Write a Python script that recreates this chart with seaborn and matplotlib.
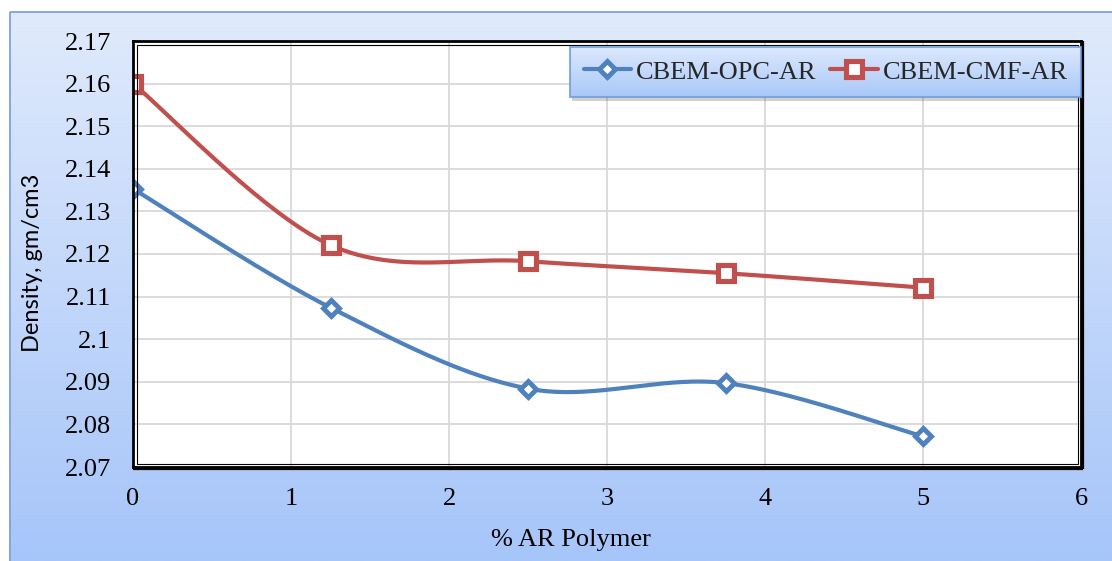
import numpy as np
import matplotlib
matplotlib.use("Agg")
import matplotlib.pyplot as plt
import seaborn as sns
import pandas as pd
from matplotlib.lines import Line2D
from matplotlib.patches import Rectangle

# ---- data -------------------------------------------------------------
ar_polymer = [0, 1.25, 2.5, 3.75, 5]
density_opc = [2.1353, 2.1074, 2.0884, 2.0897, 2.0772]
density_cmf = [2.1600, 2.1221, 2.1183, 2.1155, 2.1121]
series_names = ["CBEM-OPC-AR", "CBEM-CMF-AR"]
x_ticks = [0, 1, 2, 3, 4, 5, 6]
y_ticks = [2.07, 2.08, 2.09, 2.10, 2.11, 2.12, 2.13, 2.14, 2.15, 2.16, 2.17]
y_tick_labels = ["2.07", "2.08", "2.09", "2.1", "2.11", "2.12", "2.13",
                 "2.14", "2.15", "2.16", "2.17"]
x_label = "% AR Polymer"
y_label = "Density, gm/cm3"

BLUE = "#4f81bd"
RED = "#c0504d"
SERIF = "Liberation Serif"
FS = 19


def smooth_curve(xs, ys, n=60):
    """Cubic Bezier smoothing through every point (spreadsheet-style)."""
    p = np.column_stack([xs, ys]).astype(float)
    out = []
    t = np.linspace(0, 1, n)[:, None]
    for i in range(len(p) - 1):
        prev = p[i - 1] if i > 0 else p[i]
        nxt = p[i + 2] if i + 2 < len(p) else p[i + 1]
        p0, p3 = p[i], p[i + 1]
        c1 = p0 + (p3 - prev) / 6.0
        c2 = p3 - (nxt - p0) / 6.0
        seg = ((1 - t) ** 3) * p0 + 3 * ((1 - t) ** 2) * t * c1 \
            + 3 * (1 - t) * t ** 2 * c2 + t ** 3 * p3
        out.append(seg if i == 0 else seg[1:])
    pts = np.vstack(out)
    return pts[:, 0], pts[:, 1]


sns.set_theme(style="white")
plt.rcParams["font.family"] = [SERIF, "DejaVu Serif"]

W, H = 1112, 561
fig = plt.figure(figsize=(W / 100, H / 100), dpi=100)
fig.patch.set_facecolor("white")

# chart-area background: vertical blue gradient with a thin border
bg = fig.add_axes([0, 0, 1, 1], zorder=-10)
bg.set_xlim(0, W)
bg.set_ylim(H, 0)
bg.axis("off")
top_c = np.array([0xe0, 0xea, 0xfc]) / 255
bot_c = np.array([0xa6, 0xc5, 0xf9]) / 255
g = np.linspace(0, 1, 256)[:, None, None]
grad = top_c * (1 - g) + bot_c * g
bg.imshow(grad, extent=(9, W, H, 11), aspect="auto", interpolation="bilinear")
bg.add_patch(Rectangle((9.5, 11.5), W, H, fill=False, edgecolor="#7ea3da", lw=1.3))

# plot area
left, right, top, bottom = 133, 1081, 41, 467
bw, bh = right - left, bottom - top
ax = fig.add_axes([left / W, 1 - bottom / H, bw / W, bh / H])
ax.set_facecolor("white")

styles = [
    (series_names[0], density_opc, BLUE, "D", 8.5, 3.5),
    (series_names[1], density_cmf, RED, "s", 11.4, 3.7),
]
for name, ys, color, marker, ms, mew in styles:
    cx, cy = smooth_curve(ar_polymer, ys)
    sns.lineplot(x=cx, y=cy, sort=False, estimator=None, ax=ax, color=color,
                 lw=3.0, zorder=3, legend=False)
    ax.plot(ar_polymer, ys, linestyle="none", marker=marker, ms=ms,
            mfc="white", mec=color, mew=mew, zorder=4)

ax.set_xlim(0, 6)
ax.set_ylim(2.07, 2.17)
ax.set_xticks(x_ticks)
ax.set_xticklabels([str(v) for v in x_ticks])
ax.set_yticks(y_ticks)
ax.set_yticklabels(y_tick_labels)
ax.grid(True, color="#d9d9d9", lw=1.3)
ax.set_axisbelow(True)
ax.tick_params(axis="both", length=0, labelsize=FS, colors="black")
ax.tick_params(axis="y", pad=16)
ax.tick_params(axis="x", pad=15)
for lab in ax.get_xticklabels() + ax.get_yticklabels():
    lab.set_fontfamily(SERIF)

ax.set_xlabel(x_label, fontsize=FS, fontfamily=SERIF, color="black")
ax.xaxis.set_label_coords((571 - left) / bw, -(540 - bottom) / bh)
ax.xaxis.label.set_va("center")
ax.set_ylabel(y_label, fontsize=17, fontfamily="Lato", color="black")
ax.yaxis.set_label_coords(-(left - 33) / bw, (bottom - 263) / bh)
ax.yaxis.label.set_va("center")

for s in ax.spines.values():
    s.set_color("black")
    s.set_linewidth(2.0)
    s.set_zorder(6)

# inner thin line of the double frame and a heavier right/bottom edge
inset_px = 3.5
ax.add_patch(Rectangle((inset_px / bw, inset_px / bh),
                       1 - 2 * inset_px / bw, 1 - 2 * inset_px / bh,
                       transform=ax.transAxes, fill=False,
                       edgecolor="black", lw=0.8, zorder=6, clip_on=False))
ax.plot([1 + 1.5 / bw, 1 + 1.5 / bw], [0 - 1.5 / bh, 1], transform=ax.transAxes,
        color="black", lw=1.6, clip_on=False, zorder=6, solid_capstyle="butt")
ax.plot([0, 1 + 1.5 / bw], [0 - 1.5 / bh, 0 - 1.5 / bh], transform=ax.transAxes,
        color="black", lw=1.6, clip_on=False, zorder=6, solid_capstyle="butt")

# legend
handles = [
    Line2D([], [], color=c, lw=3.0, marker=m, ms=ms, mfc="white", mec=c, mew=mew)
    for _, _, c, m, ms, mew in styles
]
leg = ax.legend(handles, series_names, loc="upper right",
                bbox_to_anchor=(1.0, 1 - 6 / bh), borderaxespad=0,
                ncol=2, frameon=True, fancybox=False, handlelength=1.8,
                handletextpad=0.2, columnspacing=0.5, borderpad=0.5,
                prop={"family": SERIF, "size": FS})
frame = leg.get_frame()
frame.set_facecolor("none")
frame.set_edgecolor("#6e9bd6")
frame.set_linewidth(1.5)
leg.set_zorder(10)

fig.canvas.draw()
bb = frame.get_window_extent()
inv = ax.transAxes.inverted()
(x0, y0), (x1, y1) = inv.transform([[bb.x0, bb.y0], [bb.x1, bb.y1]])
# soft shadow under the legend box
sdx, sdy = 2 / bw, 4 / bh
ax.add_patch(Rectangle((x0 + sdx, y0 - sdy), x1 - x0, y1 - y0, transform=ax.transAxes,
                       facecolor="black", alpha=0.18, edgecolor="none", zorder=8,
                       clip_on=False))
ltop = np.array([0xdc, 0xe8, 0xfd]) / 255
lbot = np.array([0xa9, 0xc8, 0xf8]) / 255
lg = ltop * (1 - g) + lbot * g
ax.imshow(lg, extent=(x0, x1, y0, y1), transform=ax.transAxes, aspect="auto",
          zorder=9, interpolation="bilinear")
ax.set_xlim(0, 6)
ax.set_ylim(2.07, 2.17)

fig.savefig("out.png", dpi=100, facecolor=fig.get_facecolor())
